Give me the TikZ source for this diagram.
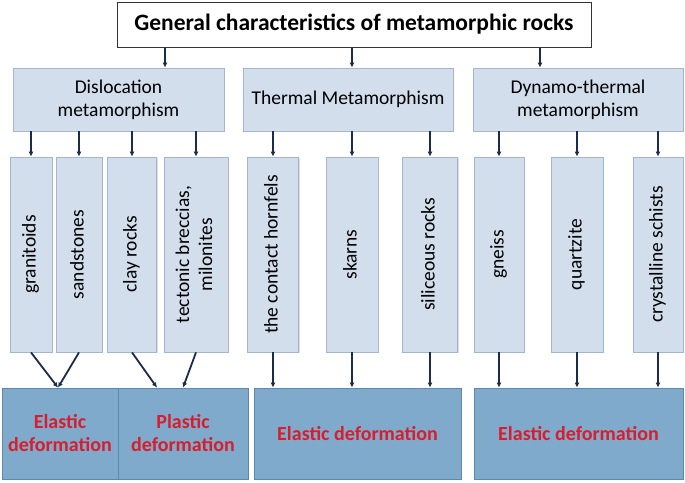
\documentclass[tikz,border=0pt]{standalone}
\usepackage{fontspec}
\setmainfont{Carlito}
\usepackage{graphicx}
\usetikzlibrary{arrows.meta,shadows}
\definecolor{midfill}{HTML}{D2DEEC}
\definecolor{midborder}{HTML}{A3B6CB}
\definecolor{botfill}{HTML}{7FAACB}
\definecolor{botborder}{HTML}{5E87A9}
\definecolor{arrowcol}{HTML}{1C2B4A}
\definecolor{redtext}{HTML}{D81E2C}
\tikzset{
  txt/.style={font=\fontsize{19.5}{23}\selectfont},
  titlebox/.style={draw=black!80, fill=white, line width=1pt, inner sep=0pt,
     font=\fontsize{23.5}{27}\selectfont\bfseries,
     drop shadow={shadow xshift=1.2pt, shadow yshift=-1.2pt, opacity=0.25}},
  midbox/.style={draw=midborder, fill=midfill, line width=0.8pt, inner sep=0pt, align=center, txt,
     drop shadow={shadow xshift=1.2pt, shadow yshift=-1.2pt, opacity=0.25}},
  smallbox/.style={draw=midborder, fill=midfill, line width=0.8pt, inner sep=0pt, txt,
     minimum height=195pt,
     drop shadow={shadow xshift=1.2pt, shadow yshift=-1.2pt, opacity=0.25}},
  botbox/.style={draw=botborder, fill=botfill, line width=0.8pt, inner sep=0pt, align=center,
     minimum height=91pt, text=redtext, font=\fontsize{20}{23}\selectfont\bfseries},
  arr/.style={draw=arrowcol, line width=1.8pt, -{Latex[length=5pt,width=5pt]}},
}
\newcommand{\vtext}[1]{\rotatebox{90}{\begin{tabular}{@{}c@{}}#1\end{tabular}}}
\begin{document}
\begin{tikzpicture}[x=1pt,y=-1pt]
\useasboundingbox (0,0) rectangle (685,482);
% title
\node[titlebox, minimum width=474pt, minimum height=45pt] (title) at (354,24.5)
  {General characteristics of metamorphic rocks};
% middle boxes
\node[midbox, minimum width=211pt, minimum height=63pt] (dis) at (118.5,99.5) {Dislocation\\metamorphism};
\node[midbox, minimum width=210pt, minimum height=63pt] (the) at (348,99.5) {Thermal Metamorphism};
\node[midbox, minimum width=210pt, minimum height=63pt] (dyn) at (578,99.5) {Dynamo-thermal\\metamorphism};
% small boxes
\node[smallbox, minimum width=42pt] (s1) at (31,254.5) {\vtext{granitoids}};
\node[smallbox, minimum width=46pt] (s2) at (79,254.5) {\vtext{sandstones}};
\node[smallbox, minimum width=49pt] (s3) at (132,254.5) {\vtext{clay rocks}};
\node[smallbox, minimum width=64pt] (s4) at (196,254.5) {\vtext{tectonic breccias,\\milonites}};
\node[smallbox, minimum width=51pt] (s5) at (273,254.5) {\vtext{the contact hornfels}};
\node[smallbox, minimum width=52pt] (s6) at (352,254.5) {\vtext{skarns}};
\node[smallbox, minimum width=55pt] (s7) at (430,254.5) {\vtext{siliceous rocks}};
\node[smallbox, minimum width=50pt] (s8) at (499,254.5) {\vtext{gneiss}};
\node[smallbox, minimum width=52pt] (s9) at (577,254.5) {\vtext{quartzite}};
\node[smallbox, minimum width=50pt] (s10) at (658,254.5) {\vtext{crystalline schists}};
% bottom boxes
\node[botbox, minimum width=116pt] (b1) at (60,433.5) {Elastic\\deformation};
\node[botbox, minimum width=130pt] (b2) at (183,433.5) {Plastic\\deformation};
\node[botbox, minimum width=207pt] (b3) at (357.5,433.5) {Elastic deformation};
\node[botbox, minimum width=209pt] (b4) at (578.5,433.5) {Elastic deformation};
% arrows title -> middle
\draw[arr] (title.south -| 165,0) -- (dis.north -| 165,0);
\draw[arr] (title.south -| 352,0) -- (the.north -| 352,0);
\draw[arr] (title.south -| 540,0) -- (dyn.north -| 540,0);
% arrows middle -> small
\foreach \s in {s1,s2,s3,s4} \draw[arr] (dis.south -| \s.north) -- (\s.north);
\foreach \s in {s5,s6,s7} \draw[arr] (the.south -| \s.north) -- (\s.north);
\foreach \s in {s8,s9,s10} \draw[arr] (dyn.south -| \s.north) -- (\s.north);
% arrows small -> bottom
\draw[arr] (s1.south) -- ([xshift=-2pt]b1.north);
\draw[arr] (s2.south) -- ([xshift=-2pt]b1.north);
\draw[arr] (s3.south) -- ([xshift=-26pt]b2.north);
\draw[arr] (s4.south) -- (b2.north);
\draw[arr] (s5.south) -- (b3.north -| s5.south);
\draw[arr] (s6.south) -- (b3.north -| s6.south);
\draw[arr] (s7.south) -- (b3.north -| s7.south);
\draw[arr] (s8.south) -- (b4.north -| s8.south);
\draw[arr] (s9.south) -- (b4.north -| s9.south);
\draw[arr] (s10.south) -- (b4.north -| s10.south);
\end{tikzpicture}
\end{document}
